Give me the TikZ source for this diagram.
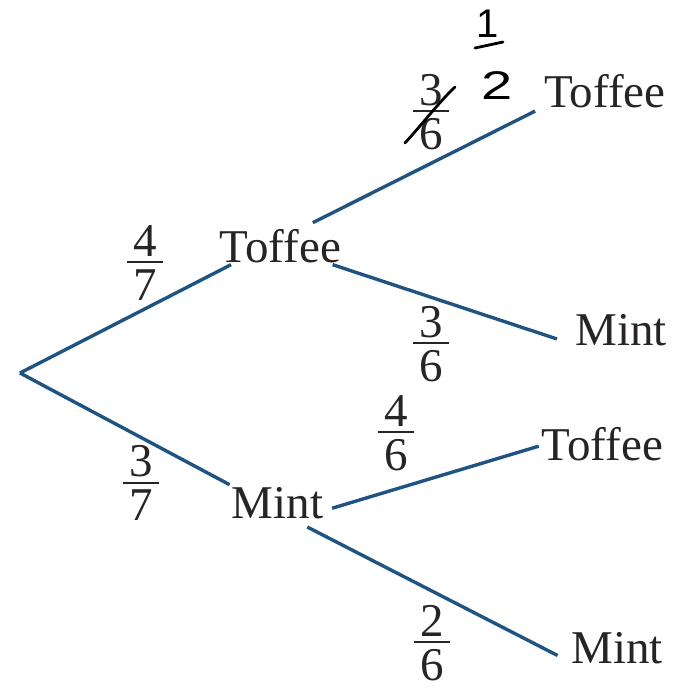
\documentclass[tikz,border=0pt]{standalone}
\usepackage{fontspec}
\setmainfont{Liberation Serif}
\newfontfamily\handfont{Liberation Sans}
\definecolor{branchblue}{RGB}{31,84,130}
\definecolor{inkgrey}{RGB}{40,36,36}
% stacked fraction with a tight bar, in text digits
\newcommand{\prob}[2]{{\renewcommand{\arraystretch}{0}%
  \setlength{\arrayrulewidth}{2pt}%
  \begin{tabular}{@{\hspace{6pt}}c@{\hspace{6pt}}}
  \rule[-5pt]{0pt}{5pt}#1\\ \hline
  \rule{0pt}{37pt}#2
  \end{tabular}}}
\tikzset{
  base/.style={font=\fontsize{47}{52}\selectfont, text=inkgrey, inner sep=2pt},
  choice/.style={base, anchor=base},
  fraclbl/.style={base, inner sep=0pt},
  branch/.style={draw=branchblue, line width=3.4pt},
  pen/.style={draw=black, line width=2.8pt, line cap=round, line join=round},
  hand/.style={font=\handfont\fontsize{40}{44}\selectfont, text=black, inner sep=0pt},
}
\begin{document}
\begin{tikzpicture}[x=1pt,y=-1pt]
  \useasboundingbox (0,0) rectangle (674,691);
  \coordinate (root) at (20,373);
  % first pick
  \node[choice] (t1) at (280.5,262) {Toffee};
  \node[choice] (m1) at (277.5,518) {Mint};
  % second pick
  \node[choice] (t2) at (605,107) {Toffee};
  \node[choice] (m2) at (621,345) {Mint};
  \node[choice] (t3) at (602.5,460) {Toffee};
  \node[choice] (m3) at (617,663) {Mint};
  % branches
  \foreach \a/\b/\s/\e in {root/t1.201/0/0, root/m1.north west/0/0,
      t1.38/t2.195/9/8, t1.340/m2.197/0/17,
      m1.351/t3.182/7/1, m1.314/m3.196/14/13}{
    \draw[branch, shorten <=\s pt, shorten >=\e pt] (\a) -- (\b);}
  % probabilities
  \node[fraclbl] (p47) at (145,263) {\prob{4}{7}};
  \node[fraclbl] (p37) at (141,483) {\prob{3}{7}};
  \node[fraclbl] (p36a) at (431,112) {\prob{3}{6}};
  \node[fraclbl] (p36b) at (431,344) {\prob{3}{6}};
  \node[fraclbl] (p46) at (396,433) {\prob{4}{6}};
  \node[fraclbl] (p26) at (432,643) {\prob{2}{6}};
  % handwritten correction
  \node[hand] (h1) at (488,24) {1};
  \node[hand] (h2) at (497,86) {\scalebox{1.4}[1]{2}};
  \draw[pen] (475,48) -- (503,42);
  \draw[pen] (405,143) .. controls (425,121) and (440,101) .. (455,87);
\end{tikzpicture}
\end{document}
